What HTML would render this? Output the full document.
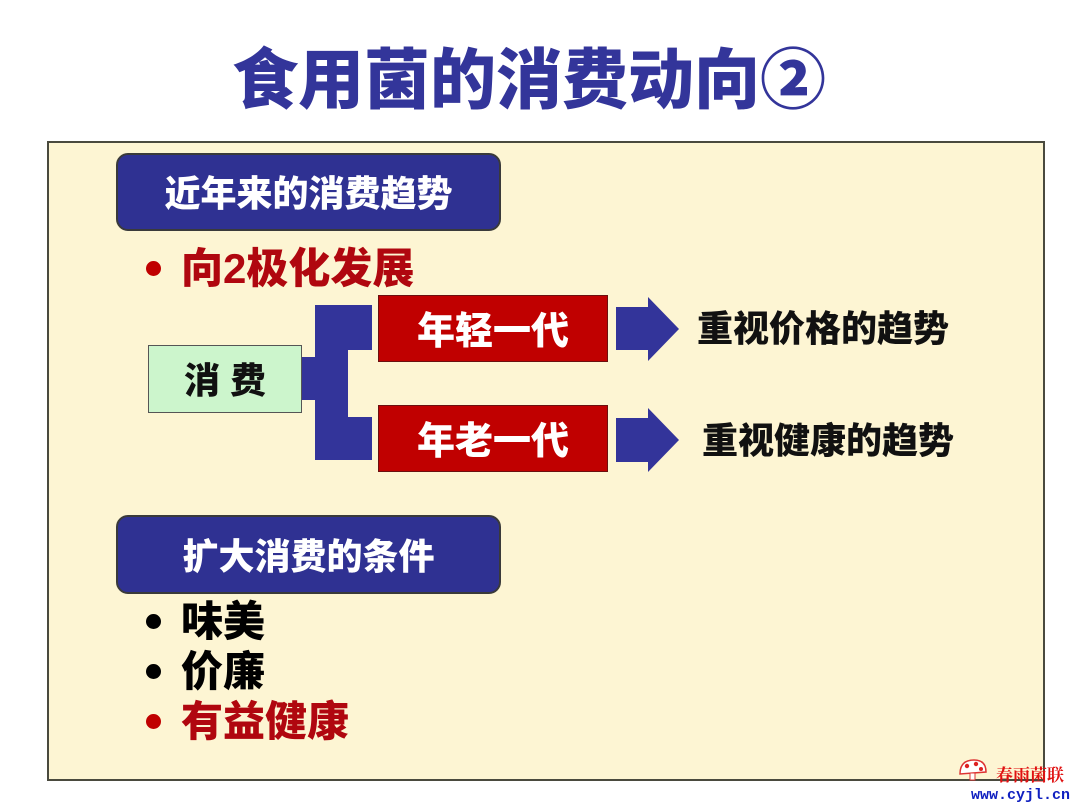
<!DOCTYPE html>
<html><head><meta charset="utf-8"><style>
html,body{margin:0;padding:0;background:#fff;}
body{width:1080px;height:810px;position:relative;overflow:hidden;font-family:"Liberation Sans","Noto Sans CJK SC","WenQuanYi Zen Hei",sans-serif;}
.a{position:absolute;white-space:nowrap;}
.t{font-weight:900;}
</style></head><body>
<div class="a t" style="left:232px;top:38px;font-size:66px;line-height:84px;color:#33359a;letter-spacing:0px;">食用菌的消费动向②</div>
<div class="a" style="left:47px;top:141px;width:994px;height:636px;background:#fdf5d3;border:2px solid #4a4a3e;"></div>

<div class="a" style="left:116px;top:153px;width:381px;height:74px;background:#2f3192;border:2px solid #3a3a3a;border-radius:12px;"></div>
<div class="a t" style="left:116px;top:155px;width:385px;height:78px;line-height:78px;text-align:center;color:#fff;font-size:36px;">近年来的消费趋势</div>

<div class="a" style="left:146px;top:261px;width:15px;height:15px;border-radius:50%;background:#c00000;"></div>
<div class="a t" style="left:181px;top:244px;font-size:42px;line-height:50px;color:#b0070f;">向2极化发展</div>

<svg class="a" style="left:0;top:0" width="1080" height="810">
<polygon points="297,357 315,357 315,305 372,305 372,350 348,350 348,417 372,417 372,460 315,460 315,400 297,400" fill="#33349a"/>
<polygon points="616,307 648,307 648,297 679,329 648,361 648,350 616,350" fill="#33349a"/>
<polygon points="616,418 648,418 648,408 679,440 648,472 648,462 616,462" fill="#33349a"/>
<g transform="translate(972,770)"><path d="M-12,4 Q-12,-10 2,-10 Q14,-10 14,2 Z" fill="#fff" stroke="#d33" stroke-width="1.5"/><circle cx="-5" cy="-4" r="2.2" fill="#d22"/><circle cx="4" cy="-6" r="2.2" fill="#d22"/><circle cx="9" cy="-1" r="2" fill="#d22"/><rect x="-2" y="3" width="5" height="7" fill="#fff" stroke="#d33" stroke-width="1"/></g>
</svg>

<div class="a" style="left:148px;top:345px;width:152px;height:66px;background:#ccf5cc;border:1.5px solid #555;"></div>
<div class="a t" style="left:148px;top:347px;width:154px;height:68px;line-height:68px;text-align:center;font-size:36px;color:#111;">消 费</div>

<div class="a" style="left:378px;top:295px;width:228px;height:65px;background:#c00000;border:1.5px solid #6a1010;"></div>
<div class="a t" style="left:378px;top:299px;width:230px;height:67px;line-height:67px;text-align:center;font-size:38px;color:#fff;">年轻一代</div>
<div class="a" style="left:378px;top:405px;width:228px;height:65px;background:#c00000;border:1.5px solid #6a1010;"></div>
<div class="a t" style="left:378px;top:409px;width:230px;height:67px;line-height:67px;text-align:center;font-size:38px;color:#fff;">年老一代</div>

<div class="a t" style="left:697px;top:307px;font-size:36px;line-height:44px;color:#111;">重视价格的趋势</div>
<div class="a t" style="left:702px;top:419px;font-size:36px;line-height:44px;color:#111;">重视健康的趋势</div>

<div class="a" style="left:116px;top:515px;width:381px;height:75px;background:#2f3192;border:2px solid #3a3a3a;border-radius:12px;"></div>
<div class="a t" style="left:116px;top:517px;width:385px;height:79px;line-height:79px;text-align:center;color:#fff;font-size:36px;">扩大消费的条件</div>

<div class="a" style="left:146px;top:614px;width:15px;height:15px;border-radius:50%;background:#000;"></div>
<div class="a t" style="left:181px;top:597px;font-size:42px;line-height:50px;color:#000;">味美</div>
<div class="a" style="left:146px;top:664px;width:15px;height:15px;border-radius:50%;background:#000;"></div>
<div class="a t" style="left:181px;top:647px;font-size:42px;line-height:50px;color:#000;">价廉</div>
<div class="a" style="left:146px;top:714px;width:15px;height:15px;border-radius:50%;background:#c00000;"></div>
<div class="a t" style="left:181px;top:697px;font-size:42px;line-height:50px;color:#b0070f;">有益健康</div>

<div class="a" style="left:996px;top:766px;font-size:17px;line-height:20px;color:#e01010;font-family:'Liberation Serif','Noto Serif CJK SC',serif;font-weight:bold;">春雨菌联</div>
<div class="a" style="left:971px;top:787px;font-size:15px;line-height:18px;color:#1020c0;font-family:'Liberation Mono',monospace;font-weight:bold;">www.cyjl.cn</div>
</body></html>
